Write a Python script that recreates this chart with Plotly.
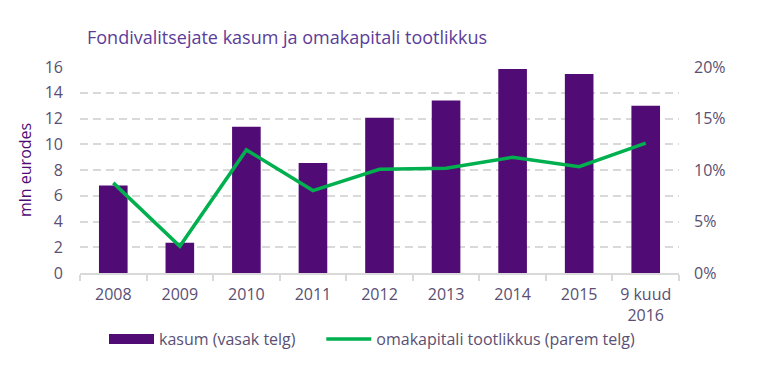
import plotly.graph_objects as go

categories = ["2008", "2009", "2010", "2011", "2012", "2013", "2014", "2015", "9 kuud<br>2016"]
kasum = [6.8, 2.35, 11.35, 8.55, 12.05, 13.4, 15.85, 15.45, 13.0]
tootlikkus = [0.0875, 0.026, 0.1195, 0.080, 0.1007, 0.1017, 0.1124, 0.1032, 0.126]

left_ticks = list(range(0, 17, 2))
right_ticks = [0, 0.05, 0.10, 0.15, 0.20]
right_labels = ["0%", "5%", "10%", "15%", "20%"]

bar_color = "#500b75"
line_color = "#00b04f"
text_color = "#5a4f73"
title_color = "#5b3d99"
font_family = "Open Sans, Lato, sans-serif"

fig = go.Figure()
fig.add_trace(go.Bar(
    x=categories, y=kasum, name="kasum (vasak telg)",
    marker=dict(color=bar_color, line=dict(width=0)),
    width=0.43, yaxis="y", showlegend=False,
))
# legend entry for bars drawn as a wide block (no data marks)
fig.add_trace(go.Scatter(
    x=[None], y=[None], name="kasum (vasak telg)" + "&nbsp;" * 5, mode="lines",
    line=dict(color=bar_color, width=10), showlegend=True, hoverinfo="skip",
))
fig.add_trace(go.Scatter(
    x=categories, y=tootlikkus, name="omakapitali tootlikkus (parem telg)",
    mode="lines", line=dict(color=line_color, width=3.5), yaxis="y2",
))

fig.add_annotation(
    text="mln eurodes", textangle=-90, xref="paper", yref="paper",
    x=(25 - 80) / 599, y=0.5, xanchor="center", yanchor="middle", showarrow=False,
    font=dict(size=16, color="#500b75", family=font_family),
)

fig.update_layout(
    width=761, height=382,
    margin=dict(l=80, r=82, t=67, b=109, autoexpand=False),
    paper_bgcolor="white", plot_bgcolor="white",
    font=dict(family=font_family, size=16, color=text_color),
    title=dict(text="Fondivalitsejate kasum ja omakapitali tootlikkus",
               x=87 / 761, xanchor="left", y=1 - 38 / 382, yanchor="middle",
               font=dict(size=18, color=title_color, family=font_family)),
    showlegend=True,
    legend=dict(orientation="h", x=104 / 761, xanchor="left", y=-(339 - 273) / 206, yanchor="middle",
                xref="container",
                font=dict(size=16, color=text_color), itemwidth=45,
                traceorder="normal", tracegroupgap=0,
                bgcolor="rgba(0,0,0,0)"),
    bargap=0.57,
    xaxis=dict(
        type="category", showgrid=False, showline=True, linecolor="#d9d9d9", linewidth=2,
        ticks="outside", tickson="boundaries", ticklen=6, tickcolor="#d9d9d9", tickwidth=2,
        tickfont=dict(size=16, color=text_color), ticklabelstandoff=6,
    ),
    yaxis=dict(
        range=[0, 16], tickvals=left_ticks, showgrid=True, gridcolor="#d9d9d9",
        griddash="8px,5px", gridwidth=2, zeroline=False, showline=False,
        ticks="", ticklabelstandoff=16,
        tickfont=dict(size=16, color=text_color),
    ),
    yaxis2=dict(
        range=[0, 0.20], tickvals=right_ticks, ticktext=right_labels,
        overlaying="y", side="right", showgrid=False, zeroline=False, showline=False,
        ticks="", ticklabelstandoff=14,
        tickfont=dict(size=16, color=text_color),
    ),
)

fig.write_html("out.html", config={"displayModeBar": False},
               post_script="document.body.style.margin='0';")
